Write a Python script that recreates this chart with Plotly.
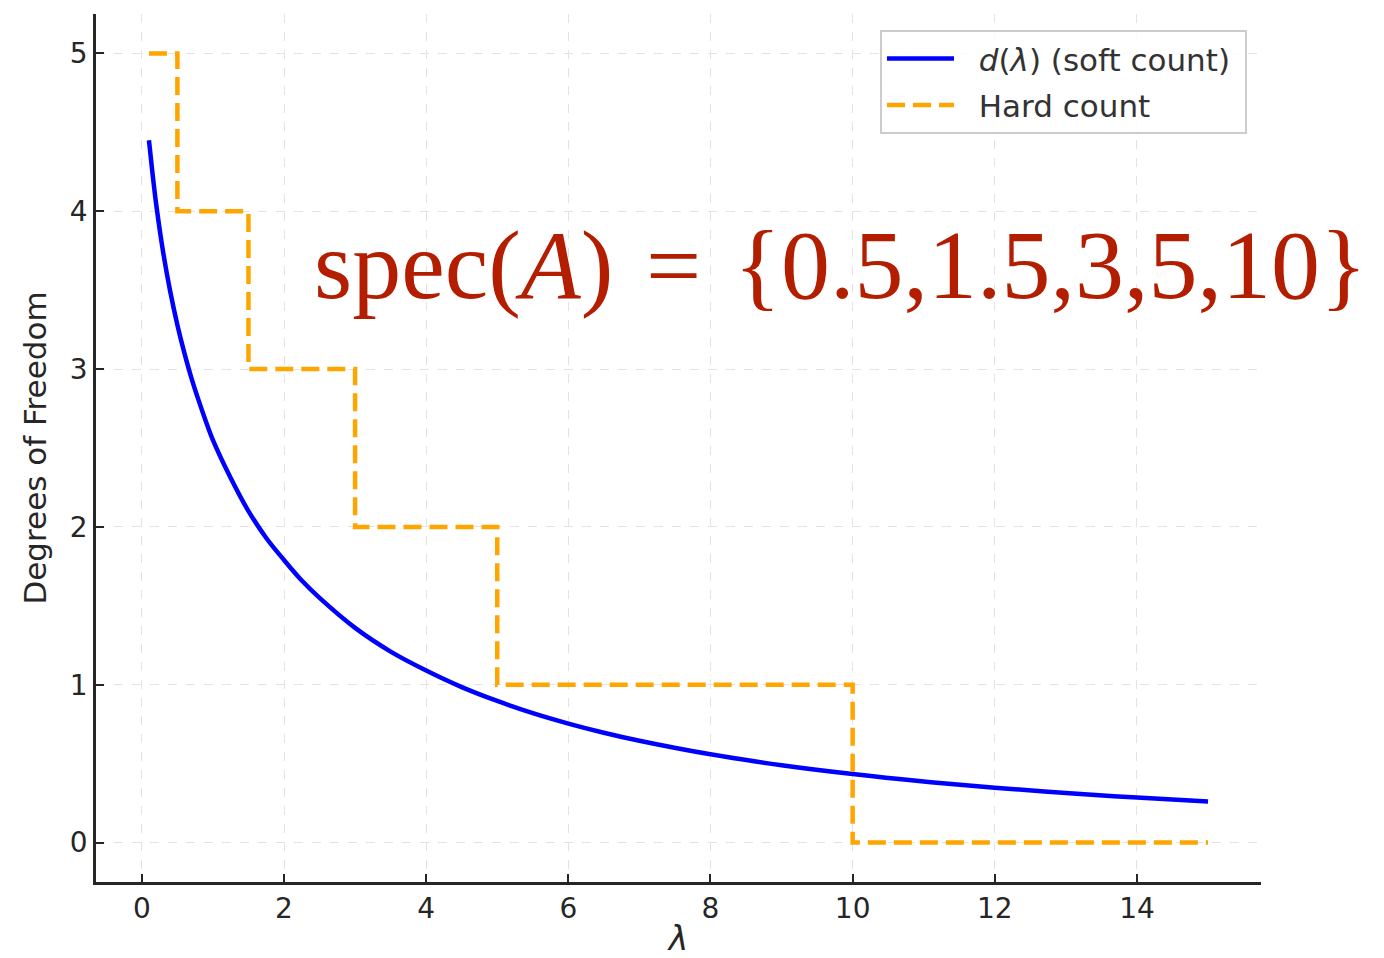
import plotly.graph_objects as go

# Soft count d(lambda)
lam_soft = [0.1, 0.15, 0.2, 0.3, 0.4, 0.5, 0.6, 0.7, 0.8, 0.9, 1.0, 1.25, 1.5, 1.75, 2.0, 2.25, 2.5,
            3.0, 3.5, 4.0, 4.5, 5.0, 5.5, 6.0, 6.5, 7.0, 8.0, 9.0, 10.0, 11.0, 12.0, 13.0, 14.0, 15.0]
d_soft = [4.45, 4.24, 4.05, 3.74, 3.49, 3.28, 3.10, 2.94, 2.80, 2.67, 2.55, 2.31, 2.10, 1.93, 1.79, 1.66, 1.55,
          1.36, 1.21, 1.09, 0.985, 0.897, 0.820, 0.754, 0.696, 0.645, 0.559, 0.490, 0.434, 0.387, 0.347, 0.314, 0.285, 0.260]

# Hard count step function
lam_hard = [0.1, 0.5, 1.5, 3.0, 5.0, 10.0, 15.0]
d_hard = [5, 4, 3, 2, 1, 0, 0]

x_ticks = [0, 2, 4, 6, 8, 10, 12, 14]
y_ticks = [0, 1, 2, 3, 4, 5]

fig = go.Figure()
fig.add_trace(go.Scatter(
    x=lam_soft, y=d_soft, mode="lines", line=dict(color="#0000ff", width=4.5, shape="spline"),
    name="\u00a0\u00a0<i>d</i>(<i>λ</i>) (soft count)\u00a0", legendgroup="a"))
fig.add_trace(go.Scatter(
    x=lam_hard, y=d_hard, mode="lines", line=dict(color="#ffa500", width=4.5, shape="hv", dash="18px,8px"),
    name="\u00a0\u00a0Hard count", legendgroup="b"))

axis_common = dict(
    showline=True, linecolor="#262626", linewidth=2.5,
    ticks="inside", ticklen=8, tickwidth=2, tickcolor="#262626",
    showgrid=True, gridcolor="#e3e3e3", gridwidth=1, griddash="dash",
    zeroline=False, mirror=False, automargin=False,
    tickfont=dict(family="DejaVu Sans", size=28, color="#262626"),
)

fig.update_xaxes(range=[-0.645, 15.745], tickvals=x_ticks, ticktext=[str(v) for v in x_ticks],
                 title=dict(text="<i>λ</i>", font=dict(family="DejaVu Sans", size=33, color="#262626"), standoff=26),
                 **axis_common)
fig.update_yaxes(range=[-0.25, 5.25], tickvals=y_ticks, ticktext=[str(v) for v in y_ticks],
                 title=dict(text="Degrees of Freedom", font=dict(family="DejaVu Sans", size=31, color="#262626"), standoff=14),
                 **axis_common)

fig.add_annotation(
    xref="paper", yref="paper", x=(312 - 96) / 1165, y=(882 - 265) / 868,
    xanchor="left", yanchor="middle", showarrow=False,
    text="spec(<i>A</i>)\u2004=\u2004{0.5,1.5,3,5,10}",
    font=dict(family="Liberation Serif", size=98, color="#b31d00"))

fig.update_layout(
    width=1384, height=958,
    margin=dict(l=96, r=123, t=14, b=76),
    paper_bgcolor="white", plot_bgcolor="white",
    showlegend=True,
    legend=dict(
        x=0.988, y=0.9816, xanchor="right", yanchor="top",
        bgcolor="rgba(255,255,255,0.8)", bordercolor="#cccccc", borderwidth=2,
        font=dict(family="DejaVu Sans", size=31, color="#333333"),
        itemwidth=67, tracegroupgap=3, traceorder="grouped",
    ),
)

fig.write_html("out.html")
